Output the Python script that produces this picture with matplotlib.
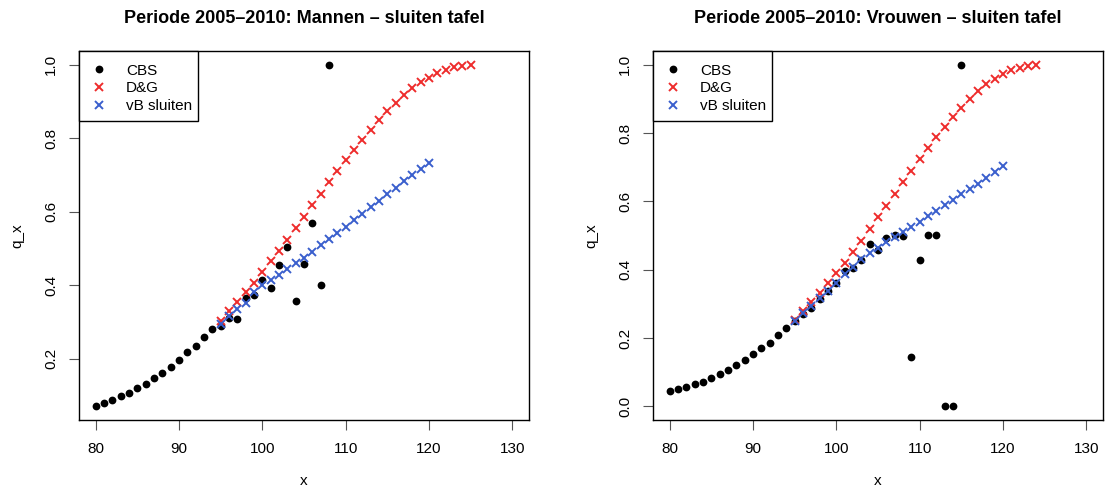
import matplotlib
matplotlib.use("Agg")
import matplotlib.pyplot as plt
from matplotlib.patches import Rectangle

plt.rcParams['font.family'] = ['Liberation Sans', 'DejaVu Sans']

# Ages
cbs_ages_m = list(range(80, 109))
cbs_ages_v = list(range(80, 116))
dg_ages_m = list(range(95, 126))
dg_ages_v = list(range(95, 125))
vb_ages = list(range(95, 121))

# Men: observed CBS rates
cbs_m = [0.070, 0.079, 0.088, 0.097, 0.107, 0.119, 0.132, 0.146, 0.160, 0.178,
         0.196, 0.218, 0.233, 0.259, 0.280, 0.290, 0.310, 0.309, 0.366, 0.373,
         0.414, 0.391, 0.456, 0.504, 0.356, 0.458, 0.570, 0.399, 1.000]
# Men: Denuit & Goderniaux closing
dg_m = [0.303, 0.329, 0.354, 0.380, 0.407, 0.436, 0.465, 0.494, 0.524, 0.555,
        0.586, 0.617, 0.648, 0.680, 0.710, 0.740, 0.769, 0.796, 0.823, 0.850,
        0.874, 0.897, 0.918, 0.936, 0.952, 0.965, 0.977, 0.986, 0.993, 0.996,
        1.000]
# Men: van Broekhoven closing
vb_m = [0.293, 0.316, 0.334, 0.350, 0.380, 0.400, 0.414, 0.428, 0.443, 0.459,
        0.475, 0.491, 0.508, 0.525, 0.542, 0.559, 0.576, 0.594, 0.612, 0.630,
        0.648, 0.665, 0.684, 0.700, 0.716, 0.731]

# Women: observed CBS rates
cbs_v = [0.044, 0.050, 0.056, 0.064, 0.072, 0.083, 0.095, 0.105, 0.120, 0.136,
         0.153, 0.170, 0.186, 0.209, 0.230, 0.249, 0.271, 0.289, 0.315, 0.337,
         0.360, 0.395, 0.406, 0.427, 0.476, 0.457, 0.493, 0.501, 0.499, 0.143,
         0.429, 0.500, 0.500, 0.000, 0.000, 1.000]
# Women: Denuit & Goderniaux closing
dg_v = [0.253, 0.279, 0.304, 0.331, 0.360, 0.389, 0.420, 0.452, 0.484, 0.519,
        0.553, 0.587, 0.621, 0.656, 0.690, 0.723, 0.756, 0.788, 0.818, 0.847,
        0.873, 0.899, 0.922, 0.942, 0.959, 0.973, 0.983, 0.991, 0.996, 1.000]
# Women: van Broekhoven closing
vb_v = [0.249, 0.273, 0.294, 0.316, 0.337, 0.361, 0.387, 0.408, 0.432, 0.449,
        0.464, 0.480, 0.495, 0.510, 0.525, 0.540, 0.556, 0.572, 0.588, 0.603,
        0.620, 0.635, 0.652, 0.669, 0.686, 0.702]

titles = ["Periode 2005\u20132010: Mannen \u2013 sluiten tafel",
          "Periode 2005\u20132010: Vrouwen \u2013 sluiten tafel"]
legend_labels = ["CBS", "D&G", "vB sluiten"]
x_ticks = [80, 90, 100, 110, 120, 130]
y_ticks_m = [0.2, 0.4, 0.6, 0.8, 1.0]
y_ticks_v = [0.0, 0.2, 0.4, 0.6, 0.8, 1.0]

RED = '#EE2C2C'
BLUE = '#3A5FCD'

W, H = 1105, 490
AX_W, AX_H = 450, 369
fig = plt.figure(figsize=(W / 100, H / 100), dpi=100)

panels = [
    (79, cbs_ages_m, cbs_m, dg_ages_m, dg_m, vb_m, y_ticks_m, titles[0]),
    (653, cbs_ages_v, cbs_v, dg_ages_v, dg_v, vb_v, y_ticks_v, titles[1]),
]

for left_px, ca, cv, da, dv, vv, yt, title in panels:
    ax = fig.add_axes([left_px / W, 1 - 420 / H, AX_W / W, AX_H / H])
    ax.plot(ca, cv, 'o', color='black', ms=5.6, mew=0, label=legend_labels[0])
    ax.plot(da, dv, 'x', color=RED, ms=6.3, mew=1.4, label=legend_labels[1])
    ax.plot(vb_ages, vv, 'x', color=BLUE, ms=6.3, mew=1.4, label=legend_labels[2])

    # R-style 4% padding around the data range
    ax.set_xlim(78, 132)
    lo, hi = min(cv + dv + vv), max(cv + dv + vv)
    pad = 0.04 * (hi - lo)
    ax.set_ylim(lo - pad, hi + pad)

    ax.set_xticks(x_ticks)
    ax.set_yticks(yt)
    ax.set_yticklabels([f"{t:.1f}" for t in yt], rotation=90, va='center')
    ax.tick_params(direction='out', length=7, width=0.8, labelsize=11,
                   color='#555555')
    ax.tick_params(axis='x', pad=9)
    ax.tick_params(axis='y', pad=8)
    for s in ax.spines.values():
        s.set_linewidth(1.0)
    ax.set_xlabel("x", fontsize=11, labelpad=13)
    ax.set_ylabel("q_x", fontsize=11, labelpad=14)
    ax.set_title(title, fontsize=13, fontweight='bold', pad=20)

    # legend box with R-like tight right margin
    ax.add_patch(Rectangle((0, 1 - 70 / AX_H), 119 / AX_W, 70 / AX_H,
                           transform=ax.transAxes, facecolor='white',
                           edgecolor='black', lw=1.0, zorder=4.5,
                           clip_on=False))
    ax.legend(loc='upper left', bbox_to_anchor=(0, 1), borderaxespad=0,
              frameon=False, fontsize=11, handlelength=0.97,
              handletextpad=1.28, labelspacing=0.26, borderpad=0.82)

fig.savefig("out.png", dpi=100)
